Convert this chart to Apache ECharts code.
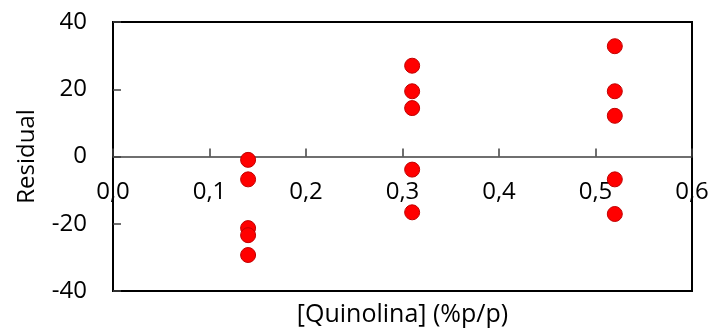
<!DOCTYPE html>
<html><head><meta charset="utf-8">
<script src="https://cdn.jsdelivr.net/npm/echarts@6/dist/echarts.min.js"></script>
<style>html,body{margin:0;padding:0;background:#fff}#c{width:713px;height:332px}</style>
</head><body><div id="c"></div>
<script>
const xTitle = "[Quinolina] (%p/p)";
const yTitle = "Residual";
const xValues = [0.14,0.14,0.14,0.14,0.14, 0.31,0.31,0.31,0.31,0.31, 0.52,0.52,0.52,0.52,0.52];
const residuals = [-1.0,-6.8,-21.3,-23.4,-29.3, 27.0,19.4,14.4,-3.9,-16.6, 32.8,19.4,12.1,-6.8,-17.1];
const FONT = "Open Sans";
const GRID_TOP = 22, GRID_H = 269;
const chart = echarts.init(document.getElementById('c'), null, {renderer:'canvas'});
chart.setOption({
  animation:false,
  grid:{left:113, top:GRID_TOP, width:579, height:GRID_H, show:true, borderColor:'#000', borderWidth:2,
    backgroundColor:'transparent', containLabel:false, outerBoundsMode:'none'},
  xAxis:{type:'value', min:0, max:0.6, interval:0.1, position:'bottom',
    offset:-GRID_H/2,
    name:xTitle, nameLocation:'middle', nameGap:146,
    nameTextStyle:{fontFamily:FONT, fontSize:25, color:'#000'},
    axisLine:{show:true, onZero:false, lineStyle:{color:'#404040', width:1.5}},
    axisTick:{show:true, inside:true, length:8, lineStyle:{color:'#404040', width:1.5}},
    axisLabel:{fontFamily:FONT, fontSize:24, color:'#000', margin:24, showMinLabel:true, showMaxLabel:true,
      formatter:v=>v.toFixed(1).replace('.',',')},
    splitLine:{show:false}},
  yAxis:{type:'value', min:-40, max:40, interval:20,
    name:yTitle, nameLocation:'middle', nameGap:74,
    nameTextStyle:{fontFamily:FONT, fontSize:24, color:'#000'},
    axisLine:{show:true, lineStyle:{color:'#000', width:2}},
    axisTick:{show:true, inside:true, length:8, lineStyle:{color:'#404040', width:1.5}},
    axisLabel:{fontFamily:FONT, fontSize:24, color:'#000', margin:26},
    splitLine:{show:false}},
  series:[{type:'scatter', data:xValues.map((x,i)=>[x,residuals[i]]),
    symbol:'circle', symbolSize:15,
    itemStyle:{color:'#FF0000', borderColor:'#C00000', borderWidth:1, opacity:1}}]
});
</script></body></html>
